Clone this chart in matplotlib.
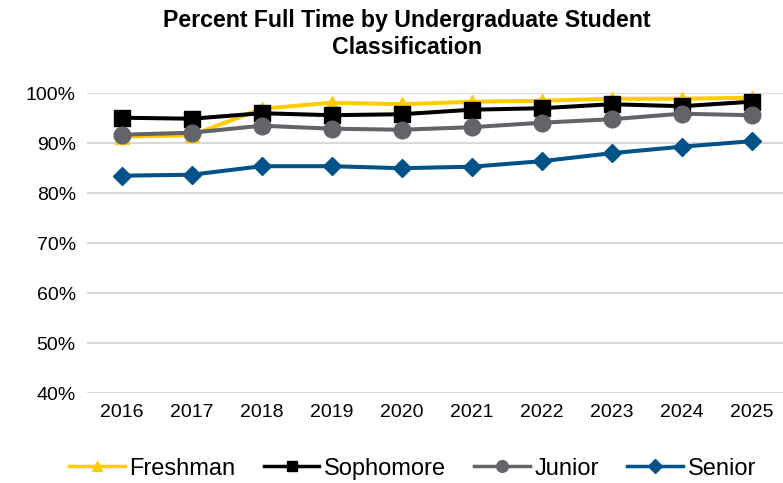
import numpy as np
import matplotlib.pyplot as plt
from matplotlib.ticker import PercentFormatter

plt.rcParams['font.family'] = ['Liberation Sans', 'DejaVu Sans']

years = ['2016', '2017', '2018', '2019', '2020', '2021', '2022', '2023', '2024', '2025']
freshman = [91.3, 91.6, 96.9, 98.1, 97.8, 98.3, 98.5, 98.9, 98.9, 99.1]
sophomore = [95.1, 94.9, 96.0, 95.6, 95.8, 96.7, 97.0, 97.8, 97.4, 98.3]
junior = [91.7, 92.1, 93.5, 92.9, 92.7, 93.2, 94.1, 94.8, 95.9, 95.6]
senior = [83.5, 83.7, 85.4, 85.4, 85.0, 85.3, 86.4, 88.0, 89.3, 90.4]

series = [
    ('Freshman', freshman, '#ffcc00', '^', 10.5),
    ('Sophomore', sophomore, '#000000', 's', 11),
    ('Junior', junior, '#626469', 'o', 12),
    ('Senior', senior, '#005288', 'D', 9.5),
]

fig = plt.figure(figsize=(7.83, 4.83), dpi=100)
ax = fig.add_axes([0.111, 0.186, 0.889, 0.621])

x = np.arange(len(years))
for name, vals, color, marker, ms in series:
    ax.plot(x, vals, color=color, lw=2.9, marker=marker, ms=ms,
            label=name, clip_on=False, zorder=3)

ax.set_ylim(40, 100)
ax.set_yticks(np.arange(40, 101, 10))
ax.yaxis.set_major_formatter(PercentFormatter(decimals=0))
ax.set_xlim(-0.5, 9.45)
ax.set_xticks(x)
ax.set_xticklabels(years)
ax.tick_params(axis='both', length=0, labelsize=14, pad=8)
ax.grid(axis='y', color='#d9d9d9', lw=1.5)
ax.set_axisbelow(True)
for s in ax.spines.values():
    s.set_visible(False)

fig.text(0.52, 0.982, 'Percent Full Time by Undergraduate Student\nClassification',
         ha='center', va='top', fontsize=16.7, fontweight='bold', linespacing=1.25)

leg = fig.legend(loc='lower center', bbox_to_anchor=(0.527, -0.037), ncol=4, frameon=False,
                 fontsize=17, handlelength=2.35, columnspacing=1.2, handletextpad=0.2,
                 markerscale=0.7)
for line in leg.get_lines():
    line.set_linewidth(2.5)

fig.savefig('out.png', dpi=100)
